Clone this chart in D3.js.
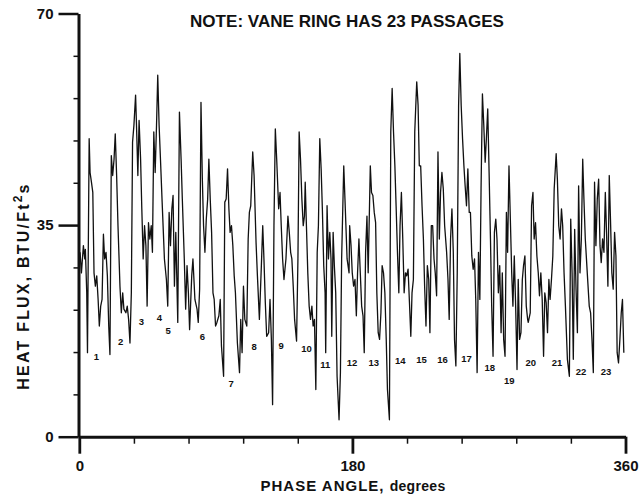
<!DOCTYPE html>
<html><head><meta charset="utf-8">
<script src="https://cdn.jsdelivr.net/npm/d3@7"></script>
<style>
body{margin:0;background:#fff;}
svg{display:block;}
text{font-family:"Liberation Sans",Arial,Helvetica,sans-serif;font-weight:bold;fill:#111;}
</style></head><body>
<svg id="chart" width="641" height="500"></svg>
<script>
const phase = [0.5,1.4,2.7,3.6,4.0,4.9,5.4,6.5,7.1,8.0,8.9,9.7,10.6,11.5,12.4,13.2,14.1,15.0,15.9,16.7,17.6,18.5,19.4,20.2,21.1,22.0,22.9,23.7,24.6,25.5,26.8,27.7,28.6,29.4,30.7,31.6,32.5,33.4,34.3,35.1,36.0,37.1,37.7,38.6,39.4,40.4,41.2,42.1,43.0,43.9,44.7,45.6,46.5,47.4,48.2,49.1,50.0,50.9,51.7,52.6,53.5,
54.6,56.1,57.4,58.3,59.2,60.1,61.0,61.8,62.7,63.6,64.9,66.0,67.1,67.9,69.2,70.1,71.0,71.9,72.7,74.1,74.9,76.2,77.6,78.4,79.3,80.2,81.1,81.9,82.8,83.7,84.6,85.4,86.3,87.2,88.1,88.9,89.8,90.7,92.0,92.9,93.7,95.1,95.9,96.8,97.7,98.6,99.4,100.3,101.2,102.1,102.9,104.2,105.6,106.4,107.3,108.2,109.1,110.4,111.3,112.1,113.0,114.3,115.2,116.5,117.4,118.7,
120.0,120.9,121.7,122.6,123.5,124.8,125.7,126.6,127.4,128.3,129.2,130.1,131.4,132.3,133.1,134.0,134.9,136.2,137.5,138.4,139.3,140.1,141.0,141.9,143.2,144.1,144.9,145.8,146.7,147.6,148.4,148.9,149.7,150.6,151.5,152.4,153.3,154.1,155.0,155.9,156.8,157.6,158.5,159.4,160.2,161.1,162.0,162.4,163.3,164.2,165.1,165.9,166.4,167.3,168.1,169.0,169.9,171.2,172.1,172.9,174.3,175.1,176.5,177.8,
178.2,179.1,179.9,180.8,181.7,182.6,183.4,184.3,185.2,186.1,187.0,187.8,188.7,189.6,190.4,191.8,192.6,193.5,194.4,195.3,196.1,197.0,197.9,198.8,199.6,200.5,201.4,202.3,203.1,204.4,205.3,206.2,207.1,208.0,208.8,209.7,210.6,211.4,212.3,213.2,214.1,215.0,215.8,216.7,217.6,218.5,219.3,220.2,221.1,222.4,223.3,224.1,225.0,225.9,226.8,227.6,228.5,229.4,230.3,231.1,232.0,232.9,233.8,234.6,235.5,236.4,
237.3,238.1,239.0,239.9,240.8,242.1,243.0,243.8,244.7,245.6,246.5,247.3,248.2,249.1,250.0,250.8,251.7,252.6,253.5,254.3,255.2,256.1,257.0,257.8,258.7,259.6,260.5,261.3,262.2,263.1,264.0,264.8,265.7,266.6,267.5,268.3,269.2,270.1,271.0,271.8,272.7,273.6,274.5,275.3,276.2,277.1,278.0,278.8,279.7,280.6,281.5,282.3,283.2,284.1,285.0,285.8,286.7,287.6,288.5,289.3,290.2,291.1,292.0,292.8,293.7,294.6,295.5,
295.9,297.2,298.1,299.0,299.8,300.7,301.6,302.5,303.3,304.2,305.1,306.0,306.8,307.7,308.6,309.5,310.3,311.2,312.1,313.0,314.3,315.1,316.0,316.9,317.8,318.6,319.5,320.4,321.7,323.0,323.9,324.8,325.6,326.5,327.4,328.3,329.1,330.0,330.9,331.8,332.6,333.5,334.8,336.1,337.0,337.9,338.8,339.6,340.5,341.4,342.3,343.2,344.0,344.9,345.8,346.7,347.5,348.4,349.3,350.1,351.0,351.9,352.8,353.7,354.5,355.4,356.3,357.2,358.0,358.9];

const heatFlux = [30.5,27.1,31.6,29.4,31.0,23.8,13.9,49.3,43.7,42.1,40.4,27.1,24.9,26.6,22.7,18.3,21.6,22.7,33.5,29.4,30.5,26.6,18.3,13.6,46.5,43.2,45.9,50.1,43.2,34.9,24.9,20.5,23.8,21.1,20.5,21.6,19.4,15.5,23.8,48.7,51.5,56.5,51.5,43.2,52.3,45.9,37.7,29.4,34.9,31.6,21.6,35.4,32.7,34.9,30.5,50.4,43.7,51.5,59.8,51.5,45.9,
38.8,29.4,26.0,21.6,37.1,31.6,37.7,39.9,24.9,33.8,18.9,53.7,45.9,39.3,29.4,21.1,28.3,23.8,17.7,26.6,29.4,22.7,21.1,18.9,24.4,55.3,42.6,34.9,30.5,36.0,39.3,45.9,39.3,33.8,23.8,22.7,18.3,18.9,20.0,22.7,15.0,10.0,38.8,39.3,44.3,37.7,33.8,34.9,31.6,26.6,23.8,15.5,10.6,19.4,13.9,24.9,19.4,18.3,32.7,37.1,38.2,47.1,43.2,32.1,26.6,19.4,
28.3,34.9,29.4,22.2,16.6,17.2,22.7,16.1,5.3,34.9,50.9,45.9,37.7,40.4,34.9,29.4,26.0,29.4,36.5,33.8,30.5,29.4,24.9,19.4,15.8,29.4,50.4,45.9,39.3,34.9,36.5,42.1,34.9,27.1,21.6,19.4,21.6,18.3,19.4,7.8,30.5,34.9,49.3,44.3,37.7,28.3,23.8,13.9,38.2,29.4,33.8,29.4,16.6,33.8,28.3,23.8,10.0,2.8,10.6,29.4,44.8,39.3,29.4,27.1,
34.9,31.6,27.1,24.9,26.0,20.0,27.1,32.7,27.1,21.6,20.0,13.9,30.5,36.5,27.1,44.8,40.4,39.9,37.1,35.4,23.8,17.2,16.1,20.5,28.3,27.1,23.8,16.1,7.8,2.8,50.4,57.6,50.4,44.8,38.2,30.5,23.8,34.9,40.4,32.7,23.8,27.1,26.6,27.7,22.2,16.6,23.8,26.0,50.4,58.7,54.8,44.8,44.8,38.2,32.7,24.9,18.3,28.3,26.0,17.2,34.9,34.9,29.4,27.1,23.3,47.1,
32.7,40.4,43.7,41.0,34.9,30.5,26.0,19.4,32.7,37.7,30.5,16.1,11.7,27.1,54.8,63.4,54.8,49.3,44.8,41.5,38.2,44.3,37.1,37.1,29.9,27.7,29.4,22.7,10.6,30.5,22.7,41.0,56.7,51.5,45.4,49.3,54.2,43.7,32.7,21.6,13.3,33.8,36.0,32.7,23.8,28.3,17.2,27.1,16.1,13.3,37.1,30.5,44.8,36.0,27.1,21.6,29.9,21.6,11.1,26.0,16.1,17.2,26.0,28.3,29.9,21.6,19.4,
18.9,20.5,38.2,40.4,32.7,35.4,29.9,27.1,23.3,27.1,22.7,13.3,23.8,22.2,17.2,26.0,22.7,26.0,29.9,41.0,46.8,42.6,34.9,32.7,37.7,34.9,27.1,21.6,12.8,10.0,36.0,27.1,12.8,34.3,24.4,17.2,41.5,27.1,32.7,45.9,39.3,32.7,27.1,21.6,20.5,16.1,10.6,42.1,31.6,39.3,42.6,31.6,28.8,32.7,30.5,40.4,33.8,24.9,43.2,36.0,27.1,24.4,33.8,29.9,13.9,12.2,16.1,20.5,22.7,13.9];

const passageNumbers = [1,2,3,4,5,6,7,8,9,10,11,12,13,14,15,16,17,18,19,20,21,22,23];
const passagePhase = [11.3,27.2,41.0,52.8,58.5,81.1,100.1,115.2,133.1,149.8,162.2,179.7,194.1,211.5,225.5,239.4,255.2,270.6,283.4,297.6,314.9,330.7,347.1];
const passageFlux = [13.3,15.8,19.0,19.7,17.5,16.6,8.8,14.9,15.0,14.5,11.9,12.2,12.2,12.5,12.8,12.8,12.9,11.4,9.3,12.2,12.3,10.7,10.7];

const yMajorTicks = [0,35,70];
const yMinorTicks = [7,14,21,28,42,49,56,63];
const xMajorTicks = [0,180,360];
const xMinorTicks = [36,72,108,144,216,252,288,324];
const titleText = "NOTE: VANE RING HAS 23 PASSAGES";
const xTitle = "PHASE ANGLE,";
const xTitleUnit = "degrees";

const svg = d3.select("#chart");
const x = d3.scaleLinear().domain([0,360]).range([79.3,625.5]);
const y = d3.scaleLinear().domain([0,70]).range([436.7,13.5]);
const ink = "#111";

// data line
svg.append("path")
  .datum(phase.map((p,i)=>[p,heatFlux[i]]))
  .attr("fill","none").attr("stroke",ink).attr("stroke-width",1.3)
  .attr("stroke-linejoin","round")
  .attr("d", d3.line().x(d=>x(d[0])).y(d=>y(d[1])));

// y axes
const yMinor = svg.append("g").attr("transform","translate(78.5,0)")
  .call(d3.axisLeft(y).tickValues(yMinorTicks).tickSize(5).tickSizeOuter(0).tickFormat(""));
yMinor.select(".domain").remove();
yMinor.selectAll(".tick line").attr("stroke",ink).attr("stroke-width",1.5);

const yMajor = svg.append("g").attr("transform","translate(78.5,0)")
  .call(d3.axisLeft(y).tickValues(yMajorTicks).tickSize(20).tickSizeOuter(0).tickPadding(5));
yMajor.select(".domain").attr("stroke",ink).attr("stroke-width",3);
yMajor.selectAll(".tick line").attr("stroke",ink).attr("stroke-width",2.5);
yMajor.selectAll(".tick text").attr("font-size",15).attr("font-family","Liberation Sans, Arial, sans-serif").attr("font-weight","bold").attr("fill",ink);

// x axes
const xMinor = svg.append("g").attr("transform","translate(0,436.7)")
  .call(d3.axisBottom(x).tickValues(xMinorTicks).tickSize(7).tickSizeOuter(0).tickFormat(""));
xMinor.select(".domain").remove();
xMinor.selectAll(".tick line").attr("stroke",ink).attr("stroke-width",1.5);

const xMajor = svg.append("g").attr("transform","translate(0,436.7)")
  .call(d3.axisBottom(x).tickValues(xMajorTicks).tickSize(17).tickSizeOuter(0).tickPadding(7));
xMajor.select(".domain").attr("stroke",ink).attr("stroke-width",3);
xMajor.selectAll(".tick line").attr("stroke",ink).attr("stroke-width",2.8);
xMajor.selectAll(".tick text").attr("font-size",15).attr("font-family","Liberation Sans, Arial, sans-serif").attr("font-weight","bold").attr("fill",ink);

// passage numbers
svg.append("g").selectAll("text").data(passageNumbers).join("text")
  .attr("x",(d,i)=>x(passagePhase[i])).attr("y",(d,i)=>y(passageFlux[i]))
  .attr("dy","0.35em").attr("text-anchor","middle").attr("font-size",9.5)
  .text(d=>d);

// title
svg.append("text").attr("x",347).attr("y",27).attr("text-anchor","middle")
  .attr("font-size",16.5).attr("textLength",314).attr("lengthAdjust","spacingAndGlyphs")
  .text(titleText);

// x title
const xt = svg.append("text").attr("x",353).attr("y",490.5).attr("text-anchor","middle");
xt.append("tspan").attr("font-size",15).attr("letter-spacing",1).text(xTitle + " ");
xt.append("tspan").attr("font-size",14).attr("letter-spacing",0.3).text(xTitleUnit);

// y title
const yt = svg.append("text").attr("transform","translate(29,286) rotate(-90)").attr("text-anchor","middle").attr("font-size",16).attr("letter-spacing",2.2);
yt.append("tspan").text("HEAT FLUX, BTU/Ft");
yt.append("tspan").attr("font-size",12).attr("dy",-7).text("2");
yt.append("tspan").attr("dy",7).text("s");
</script></body></html>
